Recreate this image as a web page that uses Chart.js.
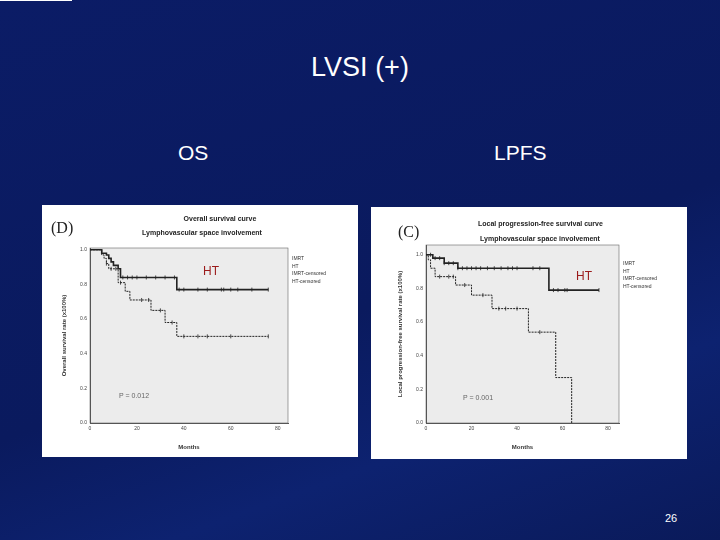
<!DOCTYPE html>
<html><head><meta charset="utf-8">
<script src="https://cdn.jsdelivr.net/npm/chart.js@4.4.0/dist/chart.umd.min.js"></script>
<style>
body{margin:0;width:720px;height:540px;overflow:hidden;font-family:"Liberation Sans",Arial,sans-serif;
background:linear-gradient(160deg,#0b1c66 0%,#0a1a5e 55%,#0d2270 75%,#0a1a5a 100%);position:relative}
.t{position:absolute;color:#fff;white-space:nowrap}
.panel{position:absolute;width:316px;height:252px;background:#fff}
.panel canvas{position:absolute;left:0;top:0}
.o{position:absolute;white-space:nowrap;font-weight:bold;color:#222;font-size:7px}
.lg{position:absolute;font-size:5px;color:#333;line-height:7.5px}
.ht{position:absolute;color:#9b1b1b;font-size:12px}
</style></head><body>
<div style="position:absolute;left:0;top:0;width:72px;height:1px;background:#fff"></div>
<div class="t" style="left:0;width:720px;text-align:center;top:52px;font-size:27px">LVSI (+)</div>
<div class="t" style="left:178px;top:141px;font-size:21px">OS</div>
<div class="t" style="left:494px;top:141px;font-size:21px">LPFS</div>
<div class="t" style="left:665px;top:512px;font-size:11px">26</div>

<div class="panel" style="left:42px;top:205px">
  <canvas id="c1" width="316" height="252"></canvas>
  <div class="o" style="left:0;width:316px;text-align:center;top:10px;padding-left:40px;box-sizing:border-box">Overall survival curve</div>
  <div class="o" style="left:100px;top:24px">Lymphovascular space involvement</div>
  <div style="position:absolute;left:9px;top:14px;font-family:'Liberation Serif',serif;font-size:16px;color:#222">(D)</div>
  <div class="lg" style="left:250px;top:50px">IMRT<br>HT<br>IMRT-censored<br>HT-censored</div>
  <div class="ht" style="left:161px;top:59px">HT</div>
  <div style="position:absolute;left:77px;top:187px;font-size:7px;color:#666">P = 0.012</div>
</div>
<div class="panel" style="left:371px;top:207px">
  <canvas id="c2" width="316" height="252"></canvas>
  <div class="o" style="left:107px;top:13px">Local progression-free survival curve</div>
  <div class="o" style="left:109px;top:28px">Lymphovascular space involvement</div>
  <div style="position:absolute;left:27px;top:16px;font-family:'Liberation Serif',serif;font-size:16px;color:#222">(C)</div>
  <div class="lg" style="left:252px;top:53px">IMRT<br>HT<br>IMRT-censored<br>HT-censored</div>
  <div class="ht" style="left:205px;top:62px">HT</div>
  <div style="position:absolute;left:92px;top:187px;font-size:7px;color:#666">P = 0.001</div>
</div>
<script>
// OS (D)
const osHT_t=[0,5,7,8,9,10,12,13,37,76];
const osHT_s=[1,0.98,0.97,0.95,0.93,0.91,0.89,0.84,0.77,0.77];
const osHT_cens=[14,16,18,20,24,28,32,36,38,40,46,50,56,57,60,63,69,76];
const osIM_t=[0,5,6,7,8,12,15,17,26,32,37,76];
const osIM_s=[1,0.97,0.95,0.92,0.89,0.81,0.76,0.71,0.65,0.58,0.50,0.50];
const osIM_cens=[7,9,11,13,22,25,30,35,40,46,50,60,76];
// LPFS (C)
const lpHT_t=[0,3,8,14,54,76];
const lpHT_s=[1,0.98,0.95,0.92,0.79,0.79];
const lpHT_cens=[2,4,6,8,10,12,14,16,18,20,22,24,27,30,33,36,38,40,47,50,56,58,61,62,76];
const lpIM_t=[0,1,2,4,13,20,29,45,57,64];
const lpIM_s=[1,0.97,0.92,0.87,0.82,0.76,0.68,0.54,0.27,0];
const lpIM_cens=[6,10,12,17,25,32,35,40,50];

function stepAt(ts,ss,x){let v=ss[0];for(let i=0;i<ts.length;i++){if(ts[i]<=x)v=ss[i];}return v;}
function pts(ts,ss){return ts.map((t,i)=>({x:t,y:ss[i]}));}
function cens(ts,ss,c){return c.map(x=>({x:x,y:stepAt(ts,ss,x)}));}
function make(id,cfg){
  const line=(d,dash,w)=>({type:'line',data:d,stepped:true,borderColor:'#222',borderWidth:w,borderDash:dash,pointRadius:0,fill:false});
  const mk=(d)=>({type:'scatter',data:d,pointStyle:'line',rotation:90,radius:2,borderColor:'#222',borderWidth:0.8,backgroundColor:'#222'});
  new Chart(document.getElementById(id),{
    data:{datasets:[line(pts(cfg.ht[0],cfg.ht[1]),[],1.6),mk(cens(cfg.ht[0],cfg.ht[1],cfg.ht[2])),
      line(pts(cfg.im[0],cfg.im[1]),[2,1],1),mk(cens(cfg.im[0],cfg.im[1],cfg.im[2]))]},
    options:{responsive:false,animation:false,
      layout:{padding:{left:cfg.pl,right:cfg.pr,top:cfg.pt,bottom:cfg.pb}},
      plugins:{legend:{display:false},tooltip:{enabled:false}},
      scales:{
        x:{type:'linear',min:0,max:cfg.xmax,afterBuildTicks:s=>{s.ticks=[0,20,40,60,80].map(v=>({value:v}));},
          grid:{display:false,drawTicks:true,tickLength:2},border:{color:'#555'},
          ticks:{font:{size:5},color:'#444',padding:1},
          title:{display:true,text:'Months',font:{size:6,weight:'bold'},color:'#333',padding:2},
          afterFit:s=>{s.height=30;}},
        y:{min:0,max:cfg.ymax,afterBuildTicks:s=>{s.ticks=[0,0.2,0.4,0.6,0.8,1.0].map(v=>({value:v}));},
          grid:{display:false,tickLength:2},border:{color:'#555'},
          ticks:{font:{size:5},color:'#444',padding:1,callback:v=>v.toFixed(1)},
          title:{display:true,text:cfg.ytitle,font:{size:6,weight:'bold'},color:'#333',padding:1},
          afterFit:s=>{s.width=30;}}
      }},
    plugins:[{id:'bg',beforeDraw(c){const a=c.chartArea,x=c.ctx;x.save();x.fillStyle='#ececec';x.fillRect(a.left,a.top,a.right-a.left,a.bottom-a.top);x.strokeStyle='#666';x.lineWidth=0.6;x.strokeRect(a.left,a.top,a.right-a.left,a.bottom-a.top);x.restore();}}]
  });
}
make('c1',{ht:[osHT_t,osHT_s,osHT_cens],im:[osIM_t,osIM_s,osIM_cens],xmax:84.4,ymax:1.01,pl:18,pr:70,pt:43,pb:4,ytitle:'Overall survival rate (x100%)'});
make('c2',{ht:[lpHT_t,lpHT_s,lpHT_cens],im:[lpIM_t,lpIM_s,lpIM_cens],xmax:84.8,ymax:1.058,pl:25,pr:68,pt:38,pb:6,ytitle:'Local progression-free survival rate (x100%)'});
</script>
</body></html>
